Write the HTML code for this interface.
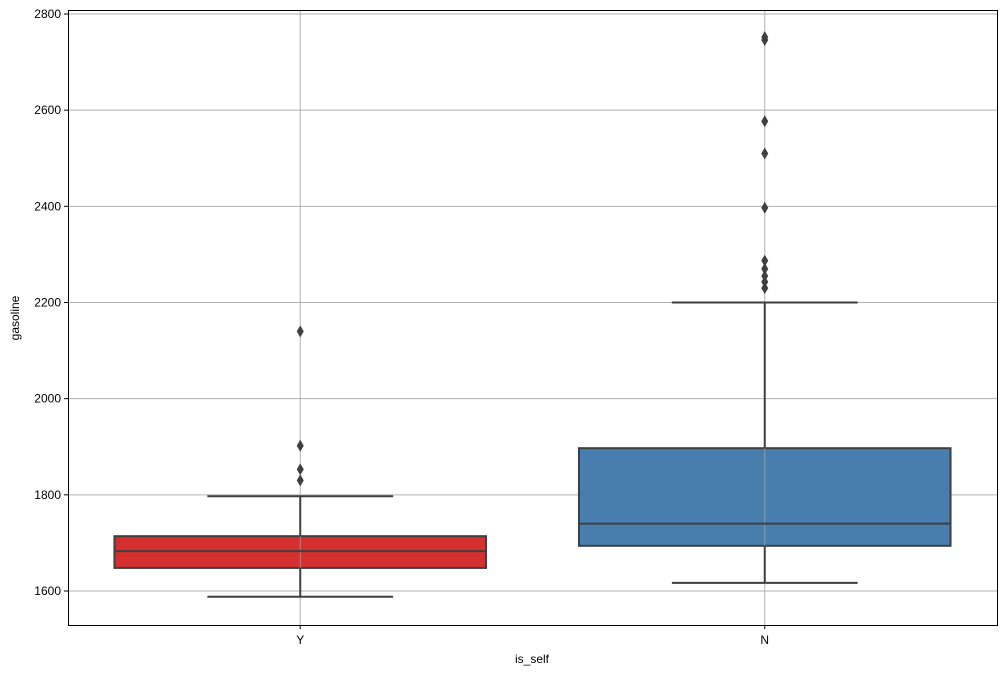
<!DOCTYPE html>
<html><head><meta charset="utf-8"><style>
body{margin:0;background:#fff;font-family:"Liberation Sans",sans-serif}
svg text{font-family:"Liberation Sans",sans-serif;font-size:12px;fill:#000}
</style></head><body>
<svg id="chart" width="1006" height="675" xmlns="http://www.w3.org/2000/svg">
<rect width="1006" height="675" fill="#fff"/>
<g id="grid"></g>
<g id="boxes"></g>
<rect x="68.5" y="10.5" width="929" height="615" fill="none" stroke="#000" stroke-width="1"/>
<g id="axes"></g>
<text x="532" y="663" text-anchor="middle">is_self</text>
<text transform="translate(19,318) rotate(-90)" text-anchor="middle">gasoline</text>
</svg>
<script>
const categories=["Y","N"];
const colors=["#d3302f","#477eae"];
const q1=[1648,1694];
const median=[1683,1740];
const q3=[1714,1897];
const whiskLo=[1588,1617];
const whiskHi=[1797,2200];
const outliers=[[2140,1902,1853,1830],[2752,2746,2577,2510,2397,2287,2270,2255,2243,2230]];
const yTicks=[1600,1800,2000,2200,2400,2600,2800];
const L=68,R=997,T=10,B=625;
const y=v=>591-(v-1600)*(577/1200);
const band=(R-L)/categories.length;
const xc=i=>L+band*(i+0.5);
const NS="http://www.w3.org/2000/svg";
function mk(p,tag,a){const e=document.createElementNS(NS,tag);for(const k in a)e.setAttribute(k,a[k]);p.appendChild(e);return e;}
const grid=document.getElementById('grid'),axes=document.getElementById('axes'),boxes=document.getElementById('boxes');
yTicks.forEach(t=>{
 const g=mk(grid,'line',{x1:L,x2:R,y1:y(t),y2:y(t),stroke:'#b0b0b0','stroke-width':1});
 
 
 const tk=mk(axes,'line',{x1:L-4,x2:L,y1:y(t),y2:y(t),stroke:'#000'});
 
 
 const tx=mk(axes,'text',{x:L-7,y:y(t)+4,'text-anchor':'end'});tx.textContent=t;
 
 
});
categories.forEach((c,i)=>{
 const cx=xc(i),w=band*0.8,cw=w/2,st='#3f3f3f';
 const g=mk(grid,'line',{x1:cx,x2:cx,y1:T,y2:B,stroke:'#b0b0b0'});
 
 
 const grp=mk(boxes,'g',{});
 
 
 mk(grp,'line',{x1:cx,x2:cx,y1:y(q1[i]),y2:y(whiskLo[i]),stroke:st,'stroke-width':2});
 mk(grp,'line',{x1:cx,x2:cx,y1:y(q3[i]),y2:y(whiskHi[i]),stroke:st,'stroke-width':2});
 mk(grp,'line',{x1:cx-cw/2,x2:cx+cw/2,y1:y(whiskLo[i]),y2:y(whiskLo[i]),stroke:st,'stroke-width':2});
 mk(grp,'line',{x1:cx-cw/2,x2:cx+cw/2,y1:y(whiskHi[i]),y2:y(whiskHi[i]),stroke:st,'stroke-width':2});
 mk(grp,'rect',{x:cx-w/2,y:y(q3[i]),width:w,height:y(q1[i])-y(q3[i]),fill:colors[i],stroke:st,'stroke-width':2});
 mk(grp,'line',{x1:cx,x2:cx,y1:y(q3[i]),y2:y(q1[i]),stroke:'#b0b0b0','stroke-opacity':0.6});
 mk(grp,'line',{x1:cx-w/2,x2:cx+w/2,y1:y(median[i]),y2:y(median[i]),stroke:st,'stroke-width':2});
 outliers[i].forEach(v=>{
  const p=mk(grp,'path',{d:`M${cx} ${y(v)-6}L${cx+3.5} ${y(v)}L${cx} ${y(v)+6}L${cx-3.5} ${y(v)}Z`,fill:st});
  
  
 });
 const tk=mk(axes,'line',{x1:cx,x2:cx,y1:B,y2:B+4,stroke:'#000'});
 
 
 const tx=mk(axes,'text',{x:cx,y:B+19,'text-anchor':'middle'});tx.textContent=c;
 
 
});
</script>
</body></html>
